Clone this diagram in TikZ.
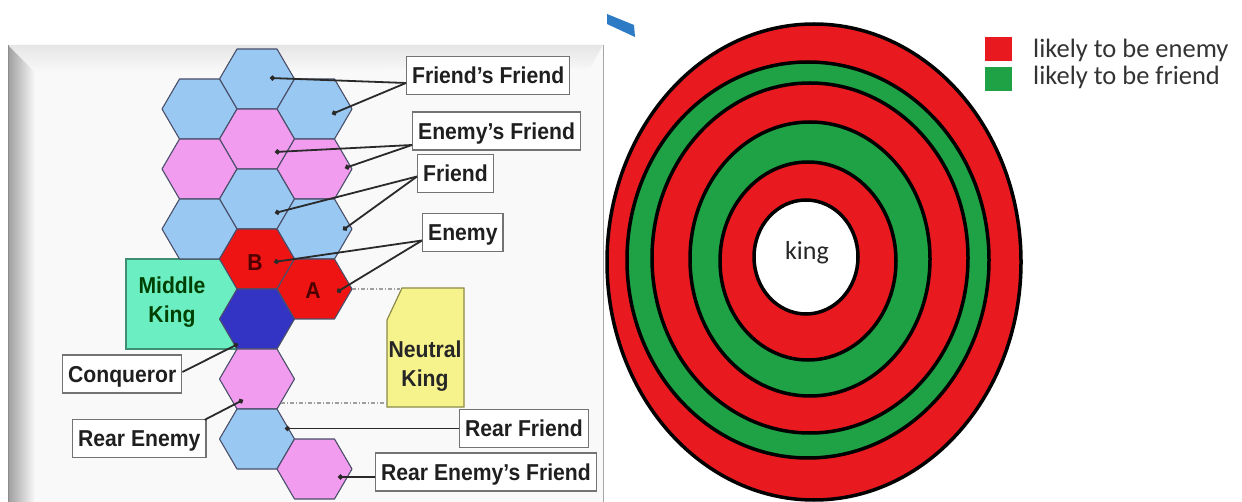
\documentclass[tikz,border=0pt]{standalone}
\usepackage{fontspec}
\setmainfont{Liberation Sans}
\newfontfamily\labfont[FakeStretch=0.92]{Liberation Sans Bold}
\newfontfamily\calfont{Carlito}
\usetikzlibrary{arrows.meta,calc}
\definecolor{hexblue}{HTML}{99C8F2}
\definecolor{hexpink}{HTML}{F29CF0}
\definecolor{hexred}{HTML}{EE1414}
\definecolor{hexnavy}{HTML}{3434C4}
\definecolor{hexedge}{HTML}{4A4F6A}
\definecolor{mkteal}{HTML}{6CEEC3}
\definecolor{mkedge}{HTML}{3F8F74}
\definecolor{nkyellow}{HTML}{F6F28C}
\definecolor{nkedge}{HTML}{8C8A48}
\definecolor{connc}{HTML}{2A2A2A}
\definecolor{ringred}{HTML}{E8191F}
\definecolor{ringgreen}{HTML}{1FA245}
\definecolor{markblue}{HTML}{2D7BC4}
\definecolor{slidebg}{HTML}{F9F9F9}
\newcommand\hexcell[3]{\draw[hexline, fill=#3, shift={(#1,#2)}] (-37.5,0) -- (-20,-30) -- (20,-30) -- (37.5,0) -- (20,30) -- (-20,30) -- cycle;}
\tikzset{
  hexline/.style={draw=hexedge, line width=1.1pt, line join=round},
  labelbox/.style={draw=black!55, fill=white, line width=1.3pt, inner xsep=5.5pt, inner ysep=0pt,
    minimum height=38pt, text height=16.5pt, text depth=0pt, anchor=west,
    font=\labfont\fontsize{23}{26}\selectfont, text=black!88},
  conn/.style={draw=connc, line width=1.8pt, -{Circle[length=5pt]}},
  guide/.style={draw=gray!75, line width=1.2pt, dash pattern=on 4pt off 2pt on 1pt off 2pt},
  ring/.style={draw=black, line width=3.5pt},
  hexletter/.style={font=\labfont\fontsize{23}{26}\selectfont, text=black!70!red},
}
\begin{document}
\begin{tikzpicture}[x=1pt,y=-1pt]
\useasboundingbox (0,0) rectangle (1242,502);
\fill[white] (0,0) rectangle (1242,502);

% ---------- left slide frame ----------
\fill[slidebg] (8,45) rectangle (603,502);
\shade[left color=black!38, right color=slidebg] (8,45) -- (35,72) -- (35,502) -- (8,502) -- cycle;
\shade[top color=black!10, bottom color=slidebg] (8,45) -- (603,45) -- (590,68) -- (35,72) -- cycle;
\draw[black!45, line width=1pt] (8.5,45) -- (8.5,502);
\draw[black!35, line width=1pt] (603,45) -- (603,502);

% ---------- Middle King box (behind hexes) ----------
\draw[fill=mkteal, draw=mkedge, line width=1.2pt] (126,259) rectangle (237,349);

% ---------- hexagons ----------
\hexcell{257}{79}{hexblue}
\hexcell{199.5}{109}{hexblue}
\hexcell{314.5}{109}{hexblue}
\hexcell{257}{139}{hexpink}
\hexcell{199.5}{169}{hexpink}
\hexcell{314.5}{169}{hexpink}
\hexcell{257}{199}{hexblue}
\hexcell{199.5}{229}{hexblue}
\hexcell{314.5}{229}{hexblue}
\hexcell{257}{259}{hexred}
\hexcell{314.5}{289}{hexred}
\hexcell{257}{319}{hexnavy}
\hexcell{257}{379}{hexpink}
\hexcell{257}{439}{hexblue}
\hexcell{314.5}{469}{hexpink}

\node[hexletter] (tB) at (255,263) {B};
\node[hexletter] (tA) at (313,291) {A};

\node[font=\labfont\fontsize{23}{29}\selectfont, text=black!75!green, align=center] (MK) at (172,302) {Middle\\King};

% ---------- Neutral King ----------
\draw[fill=nkyellow, draw=nkedge, line width=1.2pt] (402,288) -- (464,288) -- (464,407) -- (387,407) -- (387,320) -- cycle;
\node[font=\labfont\fontsize{23}{29}\selectfont, text=black!85, align=center] (NK) at (425,366) {Neutral\\King};

\coordinate (aTip) at (352,289);
\coordinate (nkA) at (400,289);
\coordinate (reTip) at (281,403);
\coordinate (nkB) at (387,403);
\draw[guide] (aTip) -- (nkA);
\draw[guide] (reTip) -- (nkB);

% ---------- label boxes ----------
\node[labelbox] (FF) at (406,75.5) {Friend’s Friend};
\node[labelbox] (EF) at (412,131) {Enemy’s Friend};
\node[labelbox] (Fr) at (417,173.5) {Friend};
\node[labelbox] (En) at (422,232.5) {Enemy};
\node[labelbox] (Cq) at (62,374) {Conqueror};
\node[labelbox] (RE) at (72,438.5) {Rear Enemy};
\node[labelbox] (RF) at (459,428.5) {Rear Friend};
\node[labelbox] (REF) at (375,472) {Rear Enemy’s Friend};

% ---------- connector end points ----------
\coordinate (dFF1) at (270,78);
\coordinate (dFF2) at (332,114);
\coordinate (dEF1) at (275,152);
\coordinate (dEF2) at (345,168);
\coordinate (dF1) at (275,213);
\coordinate (dF2) at (343,230);
\coordinate (dE1) at (274,262);
\coordinate (dE2) at (337,292);
\coordinate (dC) at (238,344);
\coordinate (dRE) at (243,400);
\coordinate (dRF) at (285,428.5);
\coordinate (dREF) at (338,477);

\draw[conn] ($(FF.west)+(0,7.5)$) -- (dFF1);
\draw[conn] ($(FF.west)+(0,7.5)$) -- (dFF2);
\draw[conn] ($(EF.west)+(0,14)$) -- (dEF1);
\draw[conn] ($(EF.west)+(0,14)$) -- (dEF2);
\draw[conn] ($(Fr.west)+(0,3)$) -- (dF1);
\draw[conn] ($(Fr.west)+(0,3)$) -- (dF2);
\draw[conn] ($(En.west)+(0,8)$) -- (dE1);
\draw[conn] ($(En.west)+(0,8)$) -- (dE2);
\draw[conn] ($(Cq.east)+(0,-2)$) -- (dC);
\draw[conn] ($(RE.north east)+(-2,1)$) -- (dRE);
\draw[conn] (RF.west) -- (dRF);
\draw[conn] ($(REF.west)+(0,5)$) -- (dREF);

% ---------- right panel ----------
\fill[markblue] (607,14) -- (634,25) -- (635,37) -- (607,24) -- cycle;

\draw[ring, fill=ringred]   (814,262) ellipse [x radius=207, y radius=238];
\draw[ring, fill=ringgreen] (808,260) ellipse [x radius=181, y radius=198];
\draw[ring, fill=ringred]   (810,258) ellipse [x radius=158, y radius=175];
\draw[ring, fill=ringgreen] (810,259) ellipse [x radius=120, y radius=137];
\draw[ring, fill=ringred]   (808,261) ellipse [x radius=88, y radius=99];
\draw[ring, fill=white]     (806,257) ellipse [x radius=52, y radius=57];
\node[font=\calfont\fontsize{26}{28}\selectfont, text=black!85] (king) at (807,253) {king};

\fill[ringred] (985,37) rectangle (1012,61);
\fill[ringgreen] (985,67) rectangle (1012,91);
\node[anchor=base west, inner sep=0pt, font=\calfont\fontsize{26.5}{28}\selectfont, text=black!80] (lg1) at (1033,58) {likely to be enemy};
\node[anchor=base west, inner sep=0pt, font=\calfont\fontsize{26.5}{28}\selectfont, text=black!80] (lg2) at (1033,85) {likely to be friend};
\end{tikzpicture}
\end{document}
